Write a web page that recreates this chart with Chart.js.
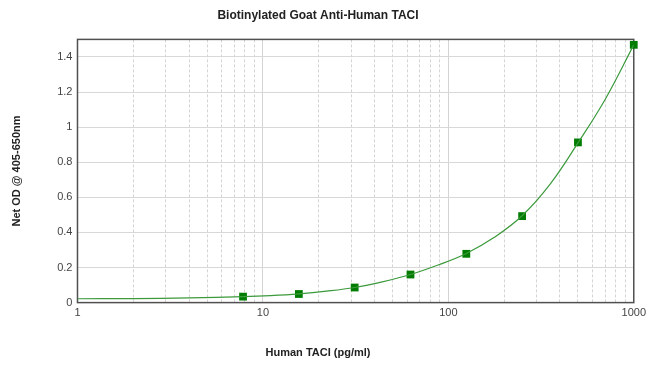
<!DOCTYPE html>
<html>
<head>
<meta charset="utf-8">
<script src="https://cdn.jsdelivr.net/npm/chart.js@4"></script>
<style>
  body { margin: 0; background: #fff; }
</style>
</head>
<body>
<canvas id="chart" width="650" height="374"></canvas>
<script>
// standards (pg/ml) and measured OD
var concentrations = [7.8125, 15.625, 31.25, 62.5, 125, 250, 500, 1000];
var netOD = [0.034, 0.049, 0.086, 0.160, 0.278, 0.493, 0.913, 1.469];

// fitted curve
var curveX = [1, 2, 4, 7.8125, 11, 15.625, 22, 31.25, 44, 62.5, 88, 125, 177, 250, 354, 500, 707, 1000];
var curveY = [0.022, 0.023, 0.027, 0.034, 0.040, 0.050, 0.065, 0.086, 0.118, 0.160, 0.214, 0.280, 0.372, 0.495, 0.675, 0.910, 1.165, 1.469];

var xTicks = [1, 2, 3, 4, 5, 6, 7, 8, 9, 10, 20, 30, 40, 50, 60, 70, 80, 90, 100, 200, 300, 400, 500, 600, 700, 800, 900, 1000];
var xLabels = [1, 10, 100, 1000];
var yTicks = [0, 0.2, 0.4, 0.6, 0.8, 1, 1.2, 1.4];

var FONT = "'Liberation Sans', Arial, sans-serif";

function toPoints(xs, ys) {
  var pts = [];
  for (var i = 0; i < xs.length; i++) {
    pts.push({ x: xs[i], y: ys[i] });
  }
  return pts;
}

// frame round the plot area
const frame = {
  id: 'frame',
  beforeDatasetsDraw: function (chart) {
    const a = chart.chartArea;
    const ctx = chart.ctx;
    ctx.save();
    ctx.strokeStyle = '#505050';
    ctx.lineWidth = 1.5;
    ctx.strokeRect(a.left, a.top, a.right - a.left, a.bottom - a.top);
    ctx.restore();
  }
};

const loadChart = function () {
  const ctx = document.getElementById('chart');
  new Chart(ctx, {
    type: 'line',
    data: {
      datasets: [{
        data: toPoints(curveX, curveY),
        borderColor: '#3c9a3c',
        borderWidth: 1.2,
        pointRadius: 0,
        tension: 0.4,
        fill: false
      }, {
        data: toPoints(concentrations, netOD),
        showLine: false,
        pointStyle: 'rect',
        pointRadius: 5.5,
        backgroundColor: '#007d00',
        borderColor: '#007d00',
        borderWidth: 0,
        clip: false
      }]
    },
    options: {
      responsive: false,
      animation: false,
      layout: { padding: { left: 0, right: 14, top: 0, bottom: 0 } },
      plugins: {
        legend: { display: false },
        tooltip: { enabled: false },
        title: {
          display: true,
          text: 'Biotinylated Goat Anti-Human TACI',
          color: '#222',
          font: { family: FONT, size: 12, weight: 'bold' },
          padding: { top: 8, bottom: 17 }
        },
        subtitle: {
          display: true,
          position: 'bottom',
          text: 'Human TACI (pg/ml)',
          color: '#222',
          font: { family: FONT, size: 11, weight: 'bold' },
          padding: { top: 23, bottom: 14 }
        }
      },
      scales: {
        x: {
          type: 'logarithmic',
          min: 1,
          max: 1000,
          afterBuildTicks: function (axis) {
            axis.ticks = xTicks.map(function (v) { return { value: v }; });
          },
          ticks: {
            autoSkip: false,
            maxRotation: 0,
            padding: 4,
            color: '#444',
            font: { family: FONT, size: 11 },
            callback: function (value) {
              return xLabels.indexOf(value) >= 0 ? String(value) : '';
            }
          },
          grid: {
            drawTicks: false,
            color: '#d4d4d4',
            lineWidth: 1
          },
          border: {
            display: false,
            dash: function (c) {
              return (c.tick && xLabels.indexOf(c.tick.value) >= 0) ? [] : [3, 2];
            }
          }
        },
        y: {
          min: 0,
          max: 1.5,
          afterBuildTicks: function (axis) {
            axis.ticks = yTicks.map(function (v) { return { value: v }; });
          },
          ticks: {
            padding: 5,
            color: '#444',
            font: { family: FONT, size: 11 },
            callback: function (value) {
              return String(Math.round(value * 10) / 10);
            }
          },
          grid: {
            drawTicks: false,
            color: '#d8d8d8',
            lineWidth: 1
          },
          border: { display: false },
          title: {
            display: true,
            text: 'Net OD @ 405-650nm',
            color: '#222',
            font: { family: FONT, size: 11, weight: 'bold' },
            padding: { top: 10, bottom: 29 }
          }
        }
      }
    },
    plugins: [frame]
  });
};

window.onload = function () {
  loadChart();
};
</script>
</body>
</html>
